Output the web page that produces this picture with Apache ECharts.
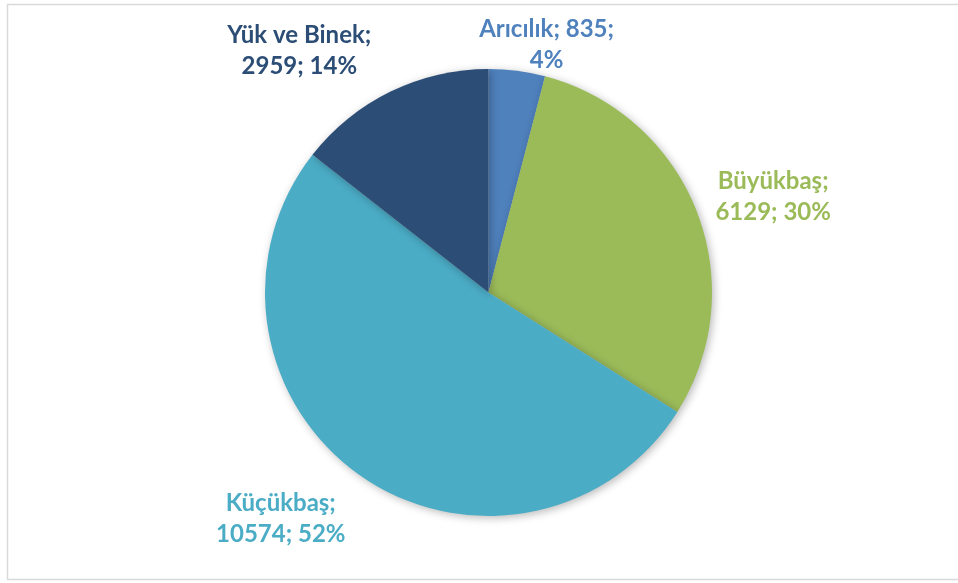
<!DOCTYPE html>
<html>
<head>
<meta charset="utf-8">
<script src="https://cdn.jsdelivr.net/npm/echarts@6/dist/echarts.min.js"></script>
<style>
  html, body { margin: 0; padding: 0; background: #fff; }
  #chart { width: 958px; height: 583px; }
</style>
</head>
<body>
<div id="chart"></div>
<script>
var categories = ['Arıcılık', 'Büyükbaş', 'Küçükbaş', 'Yük ve Binek'];
var values = [835, 6129, 10574, 2959];
var colors = ['#4F81BD', '#9BBB59', '#4BACC6', '#2C4D75'];

var CX = 488.5, CY = 292.5, R = 223.5;
// hand tweaks so labels sit where the original's "best fit" put them
var labelNudge = [[23, 25], [5, 14], [-36, -17], [-60, 23]];

var total = values.reduce(function (a, b) { return a + b; }, 0);

function midAngle(i) {
    var before = 0;
    for (var k = 0; k < i; k++) before += values[k];
    return (before + values[i] / 2) / total * Math.PI * 2; // clockwise from top
}

var chart = echarts.init(document.getElementById('chart'));

var option = {
    animation: false,
    graphic: [{
        type: 'rect',
        shape: { x: 7.5, y: 4.5, width: 960, height: 575 },
        style: { fill: 'none', stroke: '#d9d9d9', lineWidth: 1.5 },
        silent: true
    }],
    series: [{
        type: 'pie',
        center: [CX, CY],
        radius: R,
        startAngle: 90,
        clockwise: true,
        data: categories.map(function (name, i) {
            return {
                name: name,
                value: values[i],
                itemStyle: { color: colors[i] },
                label: { color: colors[i] }
            };
        }),
        itemStyle: {
            borderWidth: 0,
            shadowBlur: 8,
            shadowColor: 'rgba(0,0,0,0.28)',
            shadowOffsetX: 2,
            shadowOffsetY: 2
        },
        label: {
            show: true,
            position: 'outside',
            fontFamily: 'Lato',
            fontWeight: 'bold',
            fontSize: 24,
            lineHeight: 31,
            align: 'center',
            formatter: function (p) {
                var pct = Math.round(p.value / total * 100);
                if (p.dataIndex === 0) return p.name + '; ' + p.value + ';\n' + pct + '%';
                return p.name + ';\n' + p.value + '; ' + pct + '%';
            }
        },
        labelLine: { show: false },
        labelLayout: function (p) {
            var i = p.dataIndex;
            var a = midAngle(i);
            var dx = Math.sin(a), dy = -Math.cos(a);
            var w = p.labelRect.width, h = p.labelRect.height;
            var d = R + 12 + Math.abs(dx) * w / 2 + Math.abs(dy) * h / 2;
            return {
                x: CX + dx * d + labelNudge[i][0],
                y: CY + dy * d + labelNudge[i][1],
                align: 'center',
                verticalAlign: 'middle'
            };
        }
    }]
};

chart.setOption(option);
</script>
</body>
</html>
